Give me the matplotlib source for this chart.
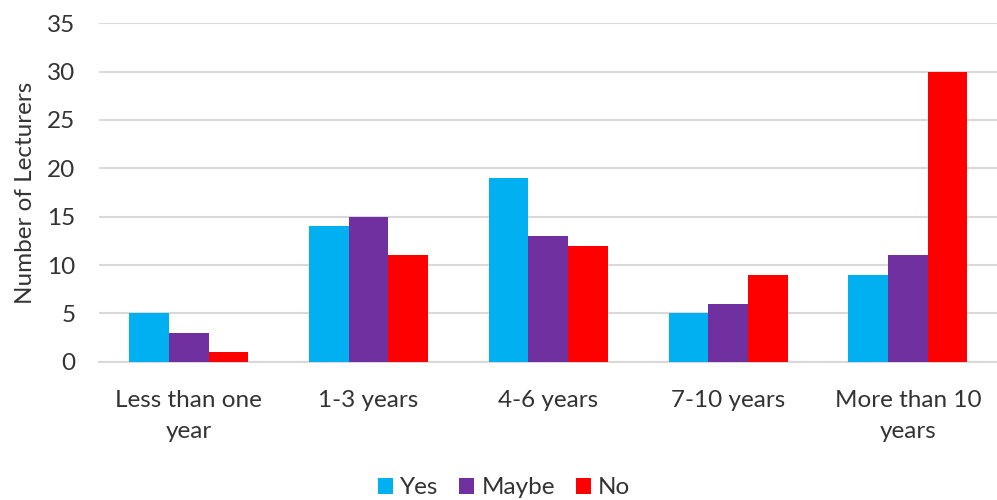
import matplotlib
matplotlib.use("Agg")
import matplotlib.pyplot as plt
import numpy as np

categories = ["Less than one\nyear", "1-3 years", "4-6 years", "7-10 years", "More than 10\nyears"]
series_names = ["Yes", "Maybe", "No"]
yes_vals = [5, 14, 19, 5, 9]
maybe_vals = [3, 15, 13, 6, 11]
no_vals = [1, 11, 12, 9, 30]
colors = ["#00B0F0", "#7030A0", "#FF0000"]

plt.rcParams['font.family'] = ['Lato', 'DejaVu Sans']
text_color = "#333333"
fs = 17.5

fig = plt.figure(figsize=(9.97, 5.0), dpi=100)
ax = fig.add_axes([99/997, (500-361.7)/500, (997.7-99)/997, (361.7-23.3)/500])

x = np.arange(len(categories))
w = 0.221
handles = []
for i, (vals, name, c) in enumerate(zip([yes_vals, maybe_vals, no_vals], series_names, colors)):
    h = ax.bar(x + (i-1)*w, vals, width=w, color=c, label=name, zorder=3)
    handles.append(h)

ax.set_xlim(-0.5, len(categories)-0.5)
ax.set_ylim(0, 35)
ax.set_yticks(range(0, 36, 5))
ax.set_xticks(x)
ax.set_xticklabels(categories, fontsize=fs, color=text_color, linespacing=1.6)
ax.tick_params(axis='y', labelsize=fs, labelcolor=text_color, length=0, pad=17)
ax.tick_params(axis='x', length=0, pad=20.5)
ax.grid(axis='y', color="#d9d9d9", linewidth=1.5, zorder=0)
for s in ['top', 'right', 'left']:
    ax.spines[s].set_visible(False)
ax.spines['bottom'].set_color("#d9d9d9")
ax.spines['bottom'].set_linewidth(1.5)
ax.set_ylabel("Number of Lecturers", fontsize=fs, color=text_color, labelpad=8)

fig.legend(handles=handles, labels=series_names, loc='center', bbox_to_anchor=(504/997, 1-488/500),
           ncol=3, frameon=False, fontsize=fs, handlelength=0.62, handleheight=0.62,
           handletextpad=0.3, columnspacing=0.85, labelcolor=text_color)

fig.savefig("out.png", dpi=100)
